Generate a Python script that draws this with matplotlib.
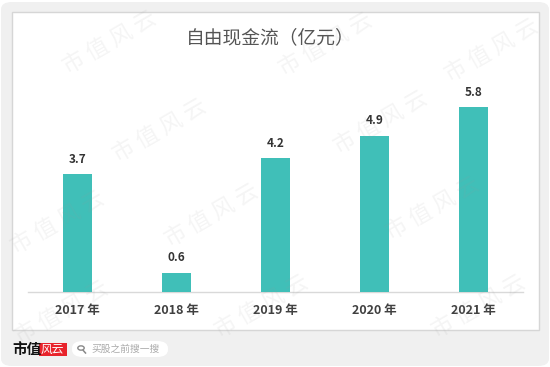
import matplotlib
matplotlib.use("Agg")
from matplotlib import pyplot as plt
from matplotlib.patches import FancyBboxPatch, Circle
from matplotlib.lines import Line2D

plt.rcParams['font.family'] = ['Noto Sans CJK SC', 'DejaVu Sans']

years = ["2017 年", "2018 年", "2019 年", "2020 年", "2021 年"]
values = [3.7, 0.6, 4.2, 4.9, 5.8]
title = "自由现金流（亿元）"

W, H = 550, 367
fig = plt.figure(figsize=(W / 100, H / 100), dpi=100)
fig.patch.set_facecolor("white")


def fx(px):
    return px / W


def fy(py):
    return (H - py) / H


# outer gray card and white panel
fig.patches.append(FancyBboxPatch((fx(1), fy(366)), fx(548), 364 / H,
                                  boxstyle="round,pad=0,rounding_size=0.02",
                                  transform=fig.transFigure, facecolor="#f0f0f0",
                                  edgecolor="none", zorder=0))
fig.patches.append(FancyBboxPatch((fx(11.5), fy(330)), fx(527), 318.5 / H,
                                  boxstyle="square,pad=0", transform=fig.transFigure,
                                  facecolor="white", edgecolor="#d6d6d6",
                                  linewidth=1, zorder=1))

ax = fig.add_axes([fx(28), fy(291.6), fx(523) - fx(28), fy(60) - fy(291.6)])
ax.set_facecolor("none")
ax.set_zorder(2)

x = range(len(years))
bars = ax.bar(x, values, width=0.3, color="#40bfb8", zorder=3)
for i, v in enumerate(values):
    ax.annotate(f"{v:.1f}", (i, v), xytext=(0, 6), textcoords="offset points",
                ha="center", va="bottom", fontsize=8.5, fontweight="bold",
                color="#333333")

ax.set_xlim(-0.5, 4.5)
ax.set_ylim(0, 7.28)
ax.set_xticks(list(x))
ax.set_xticklabels(years, fontsize=9, fontweight="bold", color="#404040")
ax.tick_params(axis="x", length=0, pad=9)
ax.set_yticks([])
for s in ["top", "left", "right"]:
    ax.spines[s].set_visible(False)
ax.spines["bottom"].set_color("#d9d9d9")
ax.spines["bottom"].set_linewidth(1)

fig.text(fx(270), fy(38), title, ha="center", va="center", fontsize=13.5,
         color="#555555")

# watermark
marks = [(110, 42), (326, 44), (492, 50),
         (160, 130), (381, 122),
         (58, 222), (212, 215), (433, 208),
         (62, 312), (262, 306), (479, 306)]
for mx, my in marks:
    fig.text(fx(mx), fy(my), "市 值 风 云", ha="center", va="center", fontsize=16,
             rotation=30, color="#9a9a9a", alpha=0.1, zorder=10)

# footer logo
fig.text(fx(12), fy(349), "市值", ha="left", va="center", fontsize=10.5,
         fontweight="bold", color="#111111")
fig.patches.append(FancyBboxPatch((fx(38.5), fy(356)), fx(28.5), 13 / H,
                                  boxstyle="square,pad=0", transform=fig.transFigure,
                                  facecolor="#e8232b", edgecolor="none", zorder=3))
fig.text(fx(52.5), fy(349.5), "风云", ha="center", va="center", fontsize=8.5,
         style="italic", color="white", zorder=4)
fig.patches.append(FancyBboxPatch((fx(72), fy(357)), fx(96), 16 / H,
                                  boxstyle="round,pad=0,rounding_size=0.02",
                                  transform=fig.transFigure, facecolor="white",
                                  edgecolor="none", zorder=3))
fig.patches.append(Circle((fx(81), fy(348)), 3.2 / W, transform=fig.transFigure,
                          facecolor="none", edgecolor="#888888", linewidth=1,
                          zorder=4))
fig.lines.append(Line2D([fx(83.3), fx(85.5)], [fy(350.5), fy(353)],
                        transform=fig.transFigure, color="#888888",
                        linewidth=1.1, zorder=4))
fig.text(fx(91), fy(349), "买股之前搜一搜", ha="left", va="center", fontsize=7,
         color="#aaaaaa", zorder=4)

fig.savefig("out.png", dpi=100, facecolor=fig.get_facecolor())
